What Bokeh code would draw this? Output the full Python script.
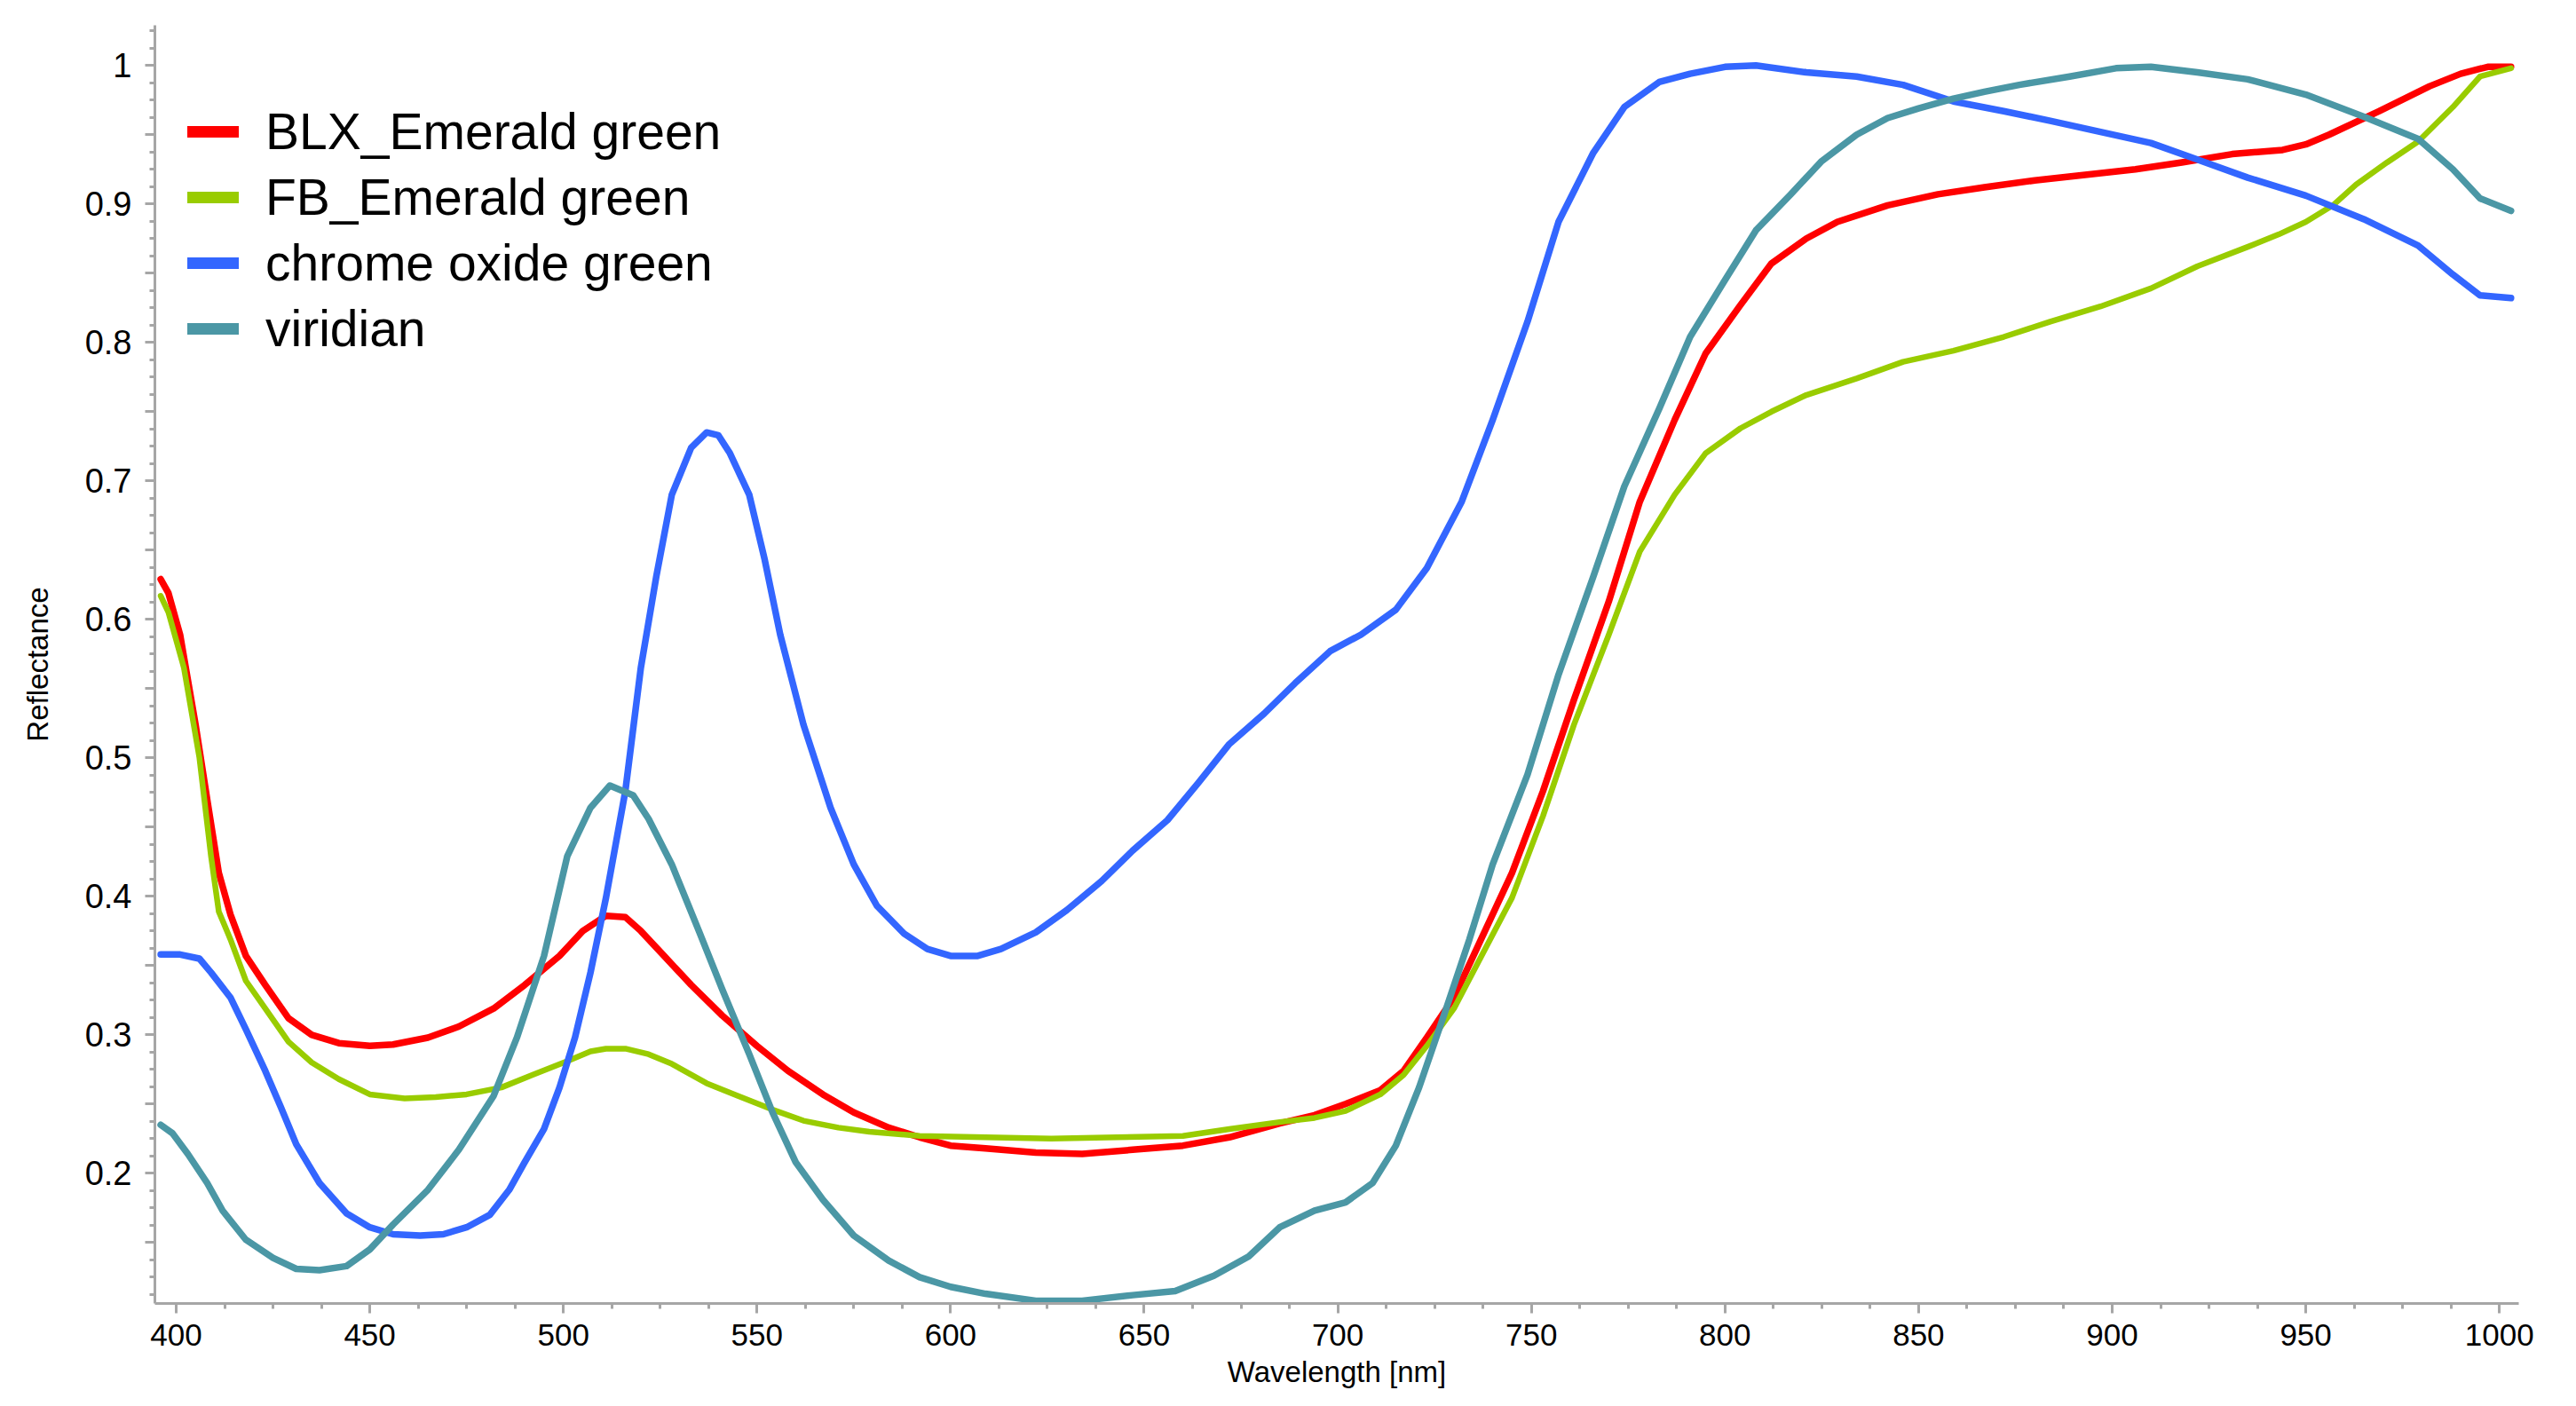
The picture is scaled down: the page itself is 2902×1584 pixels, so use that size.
from bokeh.plotting import figure
from bokeh.models import Range1d, FixedTicker, Legend, LegendItem
from bokeh.embed import file_html
from bokeh.resources import INLINE

# ---------------- data ----------------
blx_wl = [396, 398, 401, 405, 408, 411, 414, 418, 423, 429, 435, 442, 450, 456, 465, 473, 482, 490, 499, 505,
          511, 516, 520, 526, 533, 541, 550, 558, 567, 575, 584, 592, 600, 609, 622, 634, 647, 660, 672, 685,
          694, 702, 711, 717, 723, 730, 736, 745, 753, 761, 770, 778, 787, 795, 804, 812, 821, 829, 842, 855,
          867, 880, 893, 906, 918, 931, 944, 950, 956, 969, 982, 990, 997, 1003]
blx_r = [0.629, 0.619, 0.589, 0.524, 0.470, 0.417, 0.387, 0.357, 0.336, 0.312, 0.300, 0.294, 0.292, 0.293, 0.298,
         0.306, 0.319, 0.336, 0.357, 0.375, 0.386, 0.385, 0.375, 0.357, 0.336, 0.314, 0.292, 0.274, 0.257, 0.244,
         0.233, 0.226, 0.220, 0.218, 0.215, 0.214, 0.217, 0.220, 0.226, 0.236, 0.242, 0.250, 0.260, 0.274, 0.298,
         0.327, 0.363, 0.417, 0.476, 0.542, 0.613, 0.685, 0.744, 0.792, 0.827, 0.857, 0.875, 0.887, 0.899, 0.907,
         0.912, 0.917, 0.921, 0.925, 0.930, 0.936, 0.939, 0.943, 0.950, 0.967, 0.985, 0.994, 0.999, 0.999]

fb_wl = [396, 398, 402, 406, 409, 411, 414, 418, 423, 429, 435, 442, 450, 459, 467, 475, 484, 492, 501, 507,
         511, 516, 522, 528, 537, 545, 554, 562, 571, 579, 592, 609, 626, 643, 660, 672, 685, 694, 702, 711,
         717, 723, 730, 736, 745, 753, 761, 770, 778, 787, 795, 804, 812, 821, 834, 846, 859, 872, 884, 897,
         910, 922, 935, 943, 950, 957, 963, 971, 979, 988, 995, 1003]
fb_r = [0.617, 0.605, 0.565, 0.500, 0.429, 0.389, 0.369, 0.339, 0.319, 0.295, 0.280, 0.268, 0.257, 0.254, 0.255,
        0.257, 0.262, 0.271, 0.281, 0.288, 0.290, 0.290, 0.286, 0.279, 0.265, 0.256, 0.246, 0.238, 0.233, 0.230,
        0.227, 0.226, 0.225, 0.226, 0.227, 0.232, 0.237, 0.240, 0.245, 0.257, 0.271, 0.292, 0.319, 0.351, 0.399,
        0.458, 0.524, 0.589, 0.649, 0.690, 0.720, 0.738, 0.750, 0.762, 0.774, 0.786, 0.794, 0.804, 0.815, 0.826,
        0.839, 0.855, 0.869, 0.878, 0.887, 0.899, 0.914, 0.930, 0.945, 0.970, 0.992, 0.998]

cog_wl = [396, 401, 406, 409, 414, 418, 423, 427, 431, 437, 444, 450, 456, 463, 469, 475, 481, 486, 490, 495,
          499, 503, 507, 511, 516, 520, 524, 528, 533, 537, 540, 543, 548, 552, 556, 562, 569, 575, 581, 588,
          594, 600, 607, 613, 622, 630, 639, 647, 656, 664, 672, 681, 689, 698, 706, 715, 723, 732, 740, 749,
          757, 766, 774, 783, 791, 800, 808, 821, 834, 846, 859, 872, 884, 897, 910, 922, 935, 950, 965, 979,
          988, 995, 1003]
cog_r = [0.358, 0.358, 0.355, 0.345, 0.327, 0.304, 0.274, 0.248, 0.221, 0.193, 0.171, 0.161, 0.156, 0.155, 0.156,
         0.161, 0.170, 0.188, 0.208, 0.232, 0.262, 0.298, 0.345, 0.399, 0.476, 0.565, 0.631, 0.690, 0.724, 0.735,
         0.733, 0.720, 0.690, 0.643, 0.589, 0.524, 0.464, 0.423, 0.393, 0.373, 0.362, 0.357, 0.357, 0.362, 0.374,
         0.390, 0.411, 0.433, 0.455, 0.482, 0.510, 0.532, 0.554, 0.577, 0.589, 0.607, 0.637, 0.685, 0.744, 0.815,
         0.887, 0.937, 0.970, 0.988, 0.994, 0.999, 1.000, 0.995, 0.992, 0.986, 0.974, 0.967, 0.960, 0.952, 0.944,
         0.932, 0.919, 0.906, 0.889, 0.870, 0.849, 0.834, 0.832]

vir_wl = [396, 399, 403, 408, 412, 418, 425, 431, 437, 444, 450, 456, 465, 473, 482, 488, 495, 501, 507, 512,
          518, 522, 528, 535, 541, 548, 554, 560, 567, 575, 584, 592, 600, 609, 622, 634, 647, 658, 668, 677,
          685, 694, 702, 709, 715, 721, 728, 734, 740, 749, 757, 766, 774, 783, 791, 800, 808, 817, 825, 834,
          842, 850, 859, 867, 876, 889, 901, 910, 922, 935, 950, 965, 979, 988, 995, 1003]
vir_r = [0.235, 0.229, 0.214, 0.193, 0.173, 0.152, 0.139, 0.131, 0.130, 0.133, 0.145, 0.163, 0.188, 0.217, 0.256,
         0.298, 0.357, 0.429, 0.464, 0.480, 0.473, 0.456, 0.423, 0.375, 0.333, 0.286, 0.244, 0.208, 0.181, 0.155,
         0.137, 0.125, 0.118, 0.113, 0.108, 0.108, 0.112, 0.115, 0.126, 0.140, 0.161, 0.173, 0.179, 0.193, 0.220,
         0.262, 0.319, 0.369, 0.423, 0.488, 0.560, 0.631, 0.696, 0.752, 0.804, 0.845, 0.881, 0.907, 0.931, 0.950,
         0.962, 0.969, 0.976, 0.981, 0.986, 0.992, 0.998, 0.999, 0.995, 0.990, 0.979, 0.963, 0.947, 0.925, 0.904,
         0.895]

series_names = ["BLX_Emerald green", "FB_Emerald green", "chrome oxide green", "viridian"]
series_colors = ["#ff0000", "#99cc00", "#3366ff", "#4b97a5"]

x_major_ticks = list(range(400, 1001, 50))
y_label_values = [0.2, 0.3, 0.4, 0.5, 0.6, 0.7, 0.8, 0.9, 1.0]
y_label_texts = ["0.2", "0.3", "0.4", "0.5", "0.6", "0.7", "0.8", "0.9", "1"]

for a, b in [(blx_wl, blx_r), (fb_wl, fb_r), (cog_wl, cog_r), (vir_wl, vir_r)]:
    assert len(a) == len(b), (len(a), len(b))

FONT = "Liberation Sans"
AXIS_GRAY = "#a6a6a6"

p = figure(width=2900, height=1580, output_backend="svg", toolbar_location=None,
           x_range=Range1d(394.5, 1005), y_range=Range1d(0.106, 1.029),
           min_border_left=174, min_border_right=63, min_border_top=28, min_border_bottom=112,
           x_axis_label="Wavelength [nm]", y_axis_label="Reflectance")
p.outline_line_color = None
p.xgrid.visible = False
p.ygrid.visible = False
p.background_fill_color = "white"
p.border_fill_color = "white"

# ticks
x_minor = [400 + 12.5 * i for i in range(-1, 49) if 394.5 <= 400 + 12.5 * i <= 1005]
p.xaxis.ticker = FixedTicker(ticks=x_major_ticks, minor_ticks=x_minor)
y_major = [round(0.15 + 0.05 * i, 2) for i in range(18)]
y_minor = [round(0.1125 + 0.0125 * i, 4) for i in range(74)]
p.yaxis.ticker = FixedTicker(ticks=y_major, minor_ticks=y_minor)
overrides = {v: "" for v in y_major}
for v, t in zip(y_label_values, y_label_texts):
    overrides[round(v, 2)] = t
p.yaxis.major_label_overrides = overrides

for ax in (p.xaxis[0], p.yaxis[0]):
    ax.axis_line_color = AXIS_GRAY
    ax.axis_line_width = 3
    ax.major_tick_line_color = AXIS_GRAY
    ax.major_tick_line_width = 3
    ax.minor_tick_line_color = AXIS_GRAY
    ax.minor_tick_line_width = 3
    ax.major_tick_in = 0
    ax.minor_tick_in = 0
    ax.major_tick_out = 11
    ax.minor_tick_out = 6
    ax.major_label_text_font = FONT
    ax.major_label_text_color = "black"
    ax.axis_label_text_font = FONT
    ax.axis_label_text_font_style = "normal"
    ax.axis_label_text_color = "black"
    ax.axis_label_text_font_size = "33px"

p.xaxis.major_label_text_font_size = "35px"
p.yaxis.major_label_text_font_size = "38px"
p.xaxis.major_label_standoff = 12
p.yaxis.major_label_standoff = 15
p.xaxis.axis_label_standoff = 8
p.yaxis.axis_label_standoff = 32

# curves
data = [(blx_wl, blx_r), (fb_wl, fb_r), (cog_wl, cog_r), (vir_wl, vir_r)]
widths = [7.5, 6.5, 7.5, 7.5]
for (wl, r), c, w in zip(data, series_colors, widths):
    p.line(wl, r, line_color=c, line_width=w, line_join="round", line_cap="round")

# legend (thick rounded legend strokes, like the reference)
nan = float("nan")
items = []
for name, c in zip(series_names, series_colors):
    rr = p.line(x=[nan, nan], y=[nan, nan], line_color=c, line_width=13, line_cap="round")
    items.append(LegendItem(label=name, renderers=[rr]))
legend = Legend(items=items, location=(37, 1061), orientation="vertical",
                glyph_width=58, glyph_height=74, label_height=74, label_standoff=30,
                spacing=0, padding=0, margin=0,
                border_line_color=None, background_fill_alpha=0,
                label_text_font=FONT, label_text_font_size="57px", label_text_color="black")
p.add_layout(legend, "center")

open("out.html", "w").write(file_html(p, INLINE))
